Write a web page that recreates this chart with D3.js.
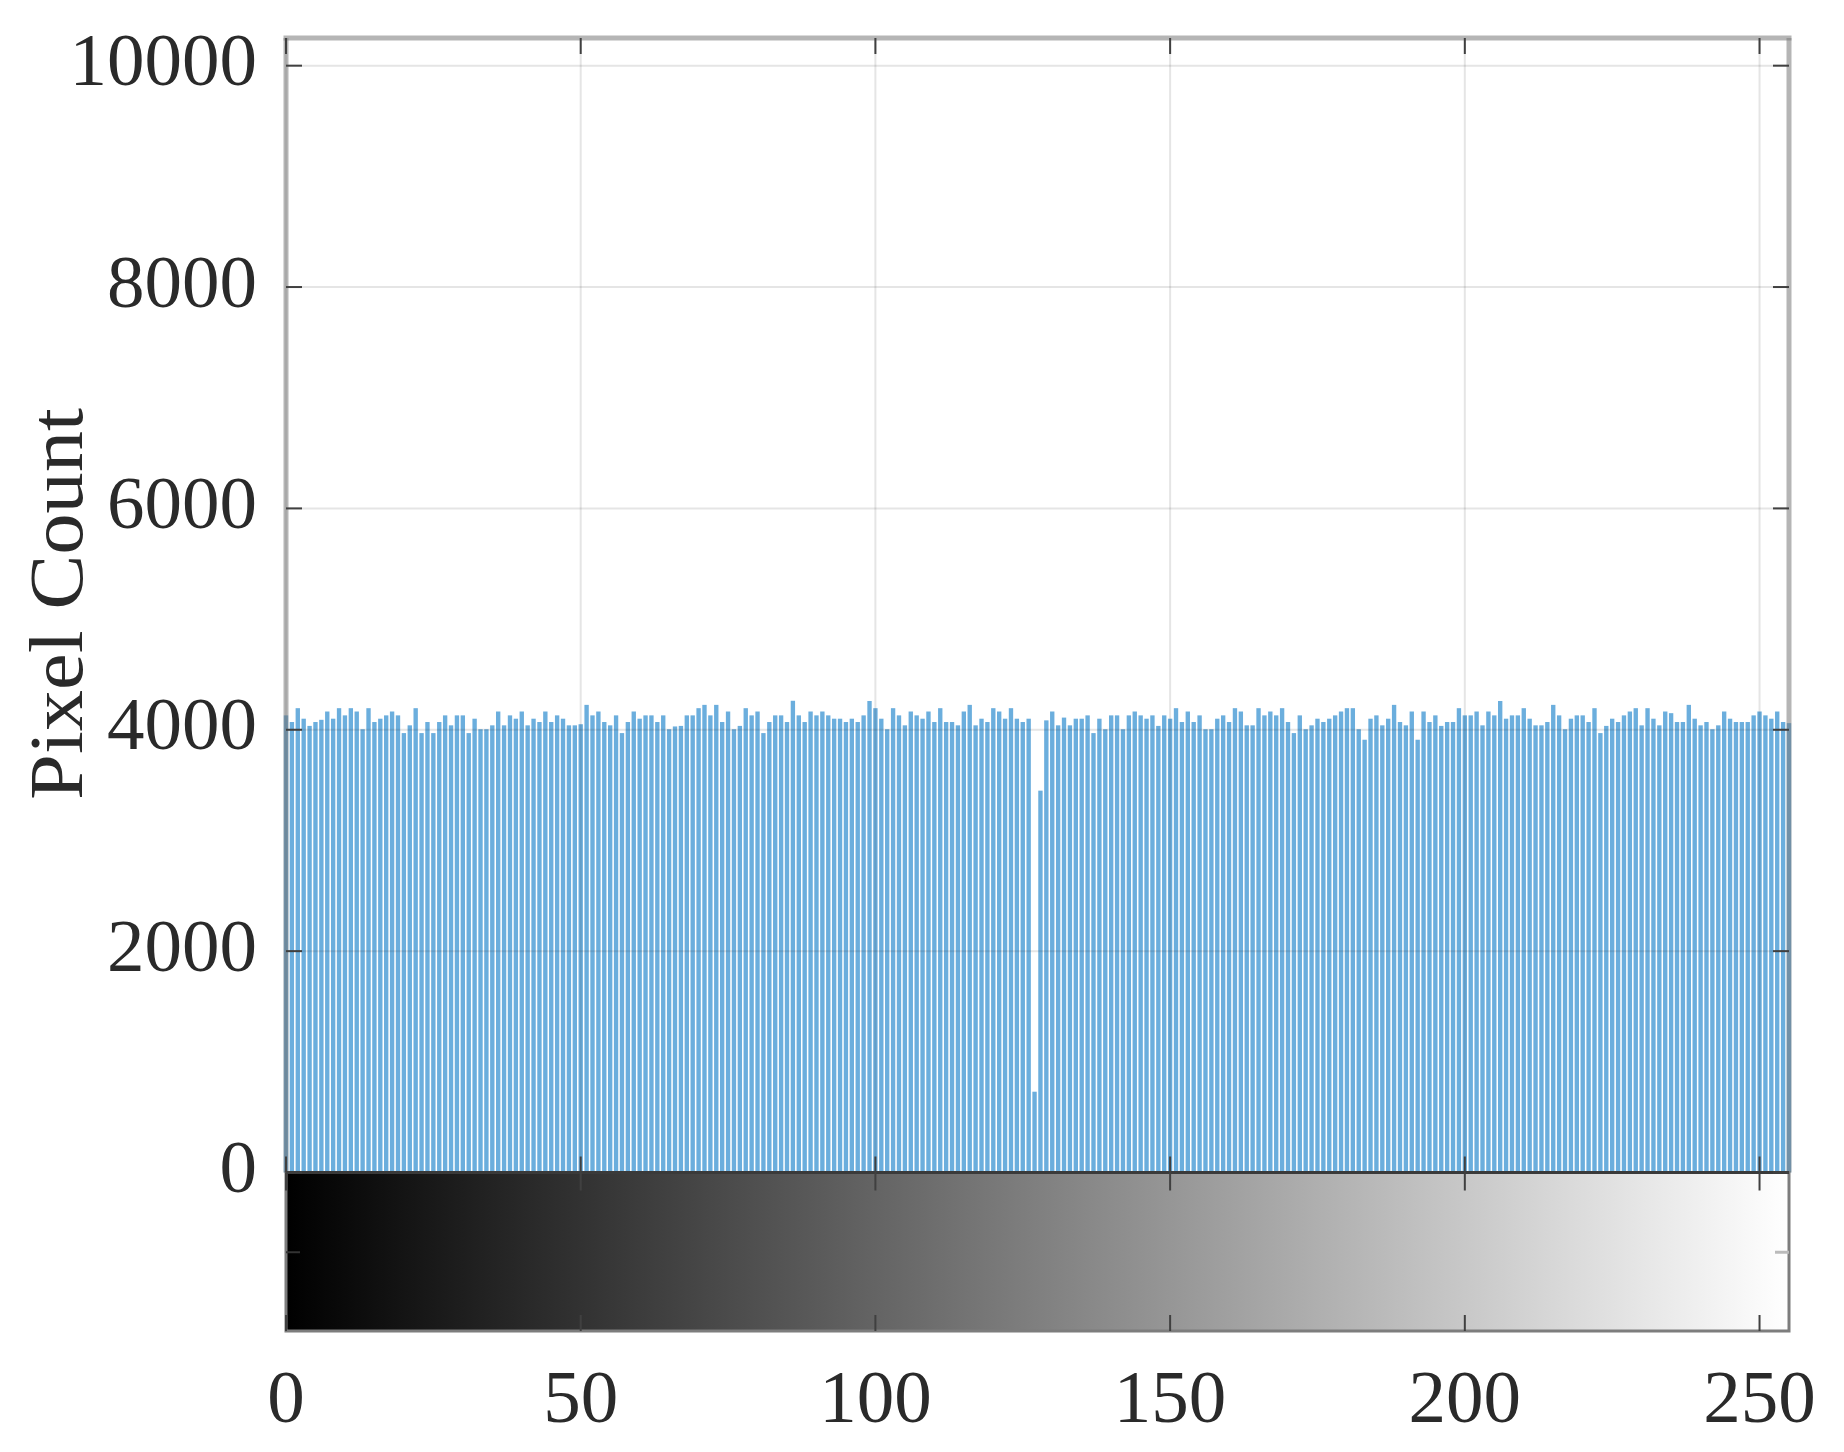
<!DOCTYPE html>
<html>
<head>
<meta charset="utf-8">
<script src="https://cdn.jsdelivr.net/npm/d3@7"></script>
<style>
  html, body { margin: 0; padding: 0; background: #fff; }
  svg { display: block; }
  text { font-family: "Liberation Serif", "DejaVu Serif", serif; fill: #2a2a2a; }
</style>
</head>
<body>
<svg id="chart" width="1844" height="1452"></svg>
<script>
// ---- data ----
const grayLevels = d3.range(256);   // intensity bins 0..255
const pixelCounts = [
  4130,4070,4195,4100,4035,4070,4090,4165,4100,4195,4130,4195,4165,4005,4195,4070,
  4100,4130,4165,4130,3970,4040,4195,3970,4070,3970,4070,4130,4040,4130,4130,3970,
  4100,4005,4005,4040,4165,4040,4130,4100,4165,4040,4100,4070,4165,4070,4130,4100,
  4040,4040,4050,4225,4130,4165,4070,4040,4130,3970,4070,4165,4100,4130,4130,4070,
  4130,4005,4030,4035,4130,4130,4195,4225,4130,4225,4070,4165,4005,4035,4195,4130,
  4165,3970,4070,4130,4130,4070,4262,4130,4070,4165,4130,4165,4130,4100,4100,4070,
  4100,4070,4130,4260,4195,4100,4005,4195,4130,4040,4165,4130,4100,4165,4070,4195,
  4070,4070,4040,4165,4225,4040,4100,4070,4195,4165,4100,4195,4100,4070,4100,730,
  3450,4085,4165,4040,4110,4040,4100,4100,4130,3970,4100,4005,4130,4130,4005,4130,
  4165,4130,4100,4130,4035,4130,4100,4195,4070,4165,4070,4130,4005,4005,4100,4130,
  4070,4195,4165,4040,4040,4195,4130,4165,4130,4195,4070,3970,4130,4005,4040,4100,
  4070,4100,4130,4165,4195,4195,4005,3910,4100,4130,4040,4100,4225,4070,4040,4165,
  3910,4165,4070,4130,4035,4070,4070,4195,4130,4130,4165,4040,4165,4130,4260,4100,
  4130,4130,4195,4100,4040,4040,4070,4225,4130,4005,4100,4130,4130,4070,4195,3970,
  4035,4100,4070,4130,4165,4195,4040,4195,4100,4040,4165,4150,4070,4070,4225,4100,
  4040,4070,4005,4040,4165,4100,4070,4070,4070,4130,4165,4130,4100,4165,4070,4060
];
const xTickValues = [0, 50, 100, 150, 200, 250];
const yTickValues = [0, 2000, 4000, 6000, 8000, 10000];
const yLabel = "Pixel Count";

// ---- layout ----
const L = 286, R = 1789, T = 38, Z = 1172.5, CB = 1331;
const svg = d3.select("#chart");

const x = d3.scaleLinear().domain([0, 255]).range([L, R]);
const y = d3.scaleLinear().domain([0, 10250]).range([Z, T]);
const step = x(1) - x(0);
const barW = step * 0.74;

// background
svg.append("rect").attr("x", 0).attr("y", 0).attr("width", 1844).attr("height", 1452).attr("fill", "#fff");

// bars
svg.append("g").selectAll("rect").data(grayLevels).join("rect")
  .attr("x", d => x(d) - barW / 2)
  .attr("width", barW)
  .attr("y", d => y(pixelCounts[d]))
  .attr("height", d => Z - y(pixelCounts[d]))
  .attr("fill", "#6BAEDD");

// grid (drawn over bars, translucent like MATLAB)
const grid = svg.append("g").attr("stroke", "rgba(38,38,38,0.12)").attr("stroke-width", 2);
grid.selectAll("line.gx").data(xTickValues).join("line")
  .attr("x1", d => x(d)).attr("x2", d => x(d)).attr("y1", T).attr("y2", Z);
grid.selectAll("line.gy").data(yTickValues).join("line")
  .attr("x1", L).attr("x2", R).attr("y1", d => y(d)).attr("y2", d => y(d));

// colorbar (grayscale strip)
const defs = svg.append("defs");
const grad = defs.append("linearGradient").attr("id", "gray").attr("x1", "0%").attr("x2", "100%");
grad.append("stop").attr("offset", "0%").attr("stop-color", "#000");
grad.append("stop").attr("offset", "100%").attr("stop-color", "#fff");
svg.append("rect").attr("x", L).attr("y", Z).attr("width", R - L).attr("height", CB - Z)
  .attr("fill", "url(#gray)");
svg.append("rect").attr("x", L).attr("y", Z).attr("width", R - L).attr("height", CB - Z)
  .attr("fill", "none").attr("stroke", "#7d7d7d").attr("stroke-width", 3);

// histogram axes box (translucent gray)
const box = svg.append("g").attr("stroke", "rgba(120,120,120,0.55)").attr("stroke-width", 5).attr("fill", "none");
box.append("line").attr("x1", L - 2.5).attr("x2", R + 2.5).attr("y1", T).attr("y2", T);
box.append("line").attr("x1", L).attr("x2", L).attr("y1", T).attr("y2", Z);
box.append("line").attr("x1", R).attr("x2", R).attr("y1", T).attr("y2", Z);

// zero line
svg.append("line").attr("x1", L).attr("x2", R).attr("y1", Z).attr("y2", Z)
  .attr("stroke", "#3a3a3a").attr("stroke-width", 3);

// ticks
const tk = svg.append("g").attr("stroke", "#404040").attr("stroke-width", 2);
const tl = 16;
yTickValues.forEach(v => {
  tk.append("line").attr("x1", L).attr("x2", L + tl).attr("y1", y(v)).attr("y2", y(v));
  tk.append("line").attr("x1", R - tl).attr("x2", R).attr("y1", y(v)).attr("y2", y(v));
});
xTickValues.forEach(v => {
  tk.append("line").attr("x1", x(v)).attr("x2", x(v)).attr("y1", T).attr("y2", T + tl);
  tk.append("line").attr("x1", x(v)).attr("x2", x(v)).attr("y1", Z - tl).attr("y2", Z);
  tk.append("line").attr("x1", x(v)).attr("x2", x(v)).attr("y1", Z).attr("y2", Z + 18);
  tk.append("line").attr("x1", x(v)).attr("x2", x(v)).attr("y1", CB - 16).attr("y2", CB);
});
// colorbar side ticks
const cbMid = (Z + CB) / 2 + 0.5;
svg.append("line").attr("x1", L).attr("x2", L + 14).attr("y1", cbMid).attr("y2", cbMid)
  .attr("stroke", "#333").attr("stroke-width", 2);
svg.append("line").attr("x1", R - 14).attr("x2", R).attr("y1", cbMid).attr("y2", cbMid)
  .attr("stroke", "#bbb").attr("stroke-width", 3);

// tick labels
svg.append("g").selectAll("text").data(yTickValues).join("text")
  .attr("x", 257).attr("y", d => y(d) + 19.5)
  .attr("text-anchor", "end").attr("font-size", 75)
  .text(d => d);
svg.append("g").selectAll("text").data(xTickValues).join("text")
  .attr("x", d => x(d)).attr("y", 1422)
  .attr("text-anchor", "middle").attr("font-size", 75)
  .text(d => d);

// y label
svg.append("text")
  .attr("transform", "translate(82,604) rotate(-90)")
  .attr("text-anchor", "middle").attr("font-size", 76)
  .attr("textLength", 392).attr("lengthAdjust", "spacingAndGlyphs")
  .text(yLabel);
</script>
</body>
</html>
